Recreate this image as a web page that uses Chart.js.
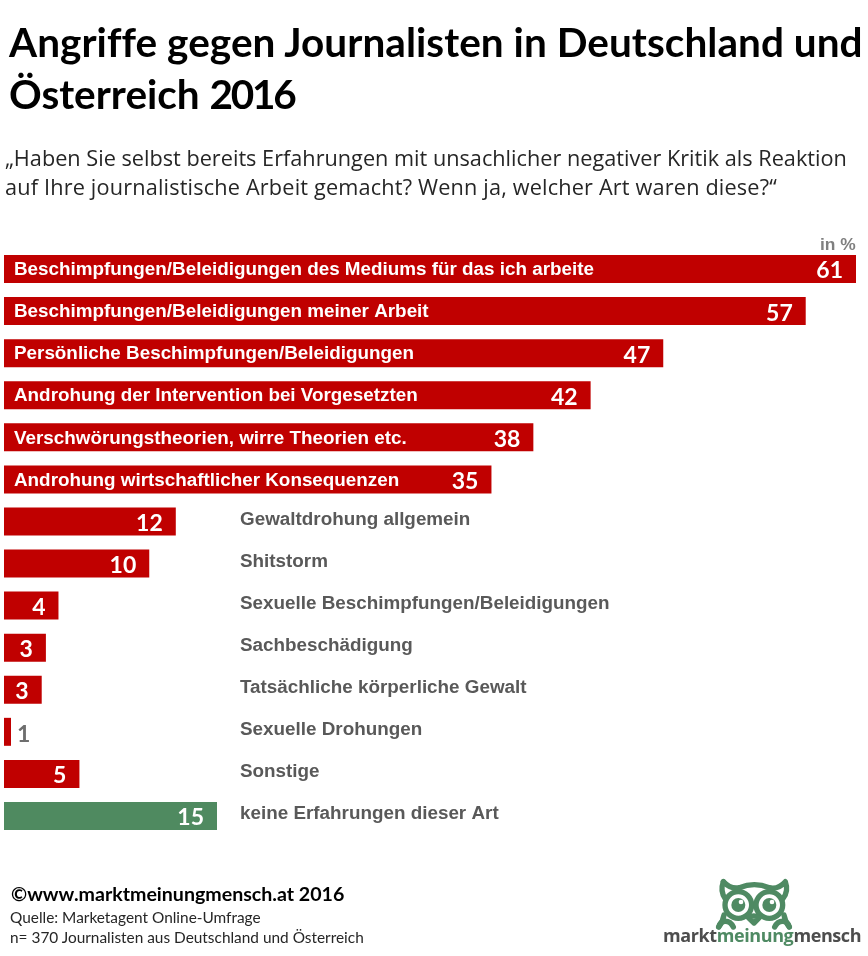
<!DOCTYPE html>
<html lang="de">
<head>
<meta charset="utf-8">
<title>Angriffe gegen Journalisten</title>
<script src="https://cdn.jsdelivr.net/npm/chart.js@4/dist/chart.umd.min.js"></script>
<style>
    html, body { margin: 0; padding: 0; background: #fff; }
    #page { position: relative; width: 868px; height: 956px; overflow: hidden; }
    #page canvas { position: absolute; left: 0; top: 0; }
    .txt { position: absolute; white-space: nowrap; }
    #title { left: 9px; top: 16px; font: bold 40.5px/52px Lato, sans-serif; color: #000; }
    #title .wide { letter-spacing: 0.05px; }
    #title .year { letter-spacing: -2.2px; }
    #subtitle { left: 5px; top: 144px; font: 21.7px/28.5px "Open Sans", sans-serif; color: #262626; }
    #subtitle .wide { letter-spacing: 0.17px; }
    #unit { left: 820px; top: 235px; font: bold 17.4px/18px "Liberation Sans", sans-serif; color: #7f7f7f; }
    #copy { left: 11px; top: 883px; font: bold 19.6px/22px Lato, sans-serif; color: #000; }
    #source { left: 10px; top: 907px; font: 15.4px/20px Lato, sans-serif; color: #262626; }
    #brand { left: 663px; top: 923px; font: bold 18px/24px "Open Sans", sans-serif; color: #4d4d4d; letter-spacing: -0.4px; }
    #brand span { color: #4f8a63; }
    #owl { position: absolute; left: 710px; top: 875px; }
</style>
</head>
<body>
<div id="page">
    <canvas id="chart-attacks" width="868" height="956"></canvas>
    <div class="txt" id="title"><span class="wide">Angriffe gegen Journalisten in Deutschland und</span><br>Österreich <span class="year">2016</span></div>
    <div class="txt" id="subtitle">„Haben Sie selbst bereits Erfahrungen mit unsachlicher negativer Kritik als Reaktion<br><span class="wide">auf Ihre journalistische Arbeit gemacht? Wenn ja, welcher Art waren diese?“</span></div>
    <div class="txt" id="unit">in %</div>
    <div class="txt" id="copy">©www.marktmeinungmensch.at 2016</div>
    <div class="txt" id="source">Quelle: Marketagent Online-Umfrage<br>n= 370 Journalisten aus Deutschland und Österreich</div>
    <svg id="owl" width="90" height="70" viewBox="0 0 270 210">
        <g fill="none" stroke="#4f8a63" stroke-width="16" stroke-linejoin="round" stroke-linecap="round">
            <path d="M40 20 C55 36 70 42 88 38 C118 26 148 26 178 38 C196 42 212 36 226 20 C234 42 230 58 218 72"/>
            <path d="M40 20 C32 42 36 58 46 72"/>
            <path d="M42 120 C40 132 34 146 26 156"/>
            <path d="M222 120 C224 132 230 146 238 156"/>
            <path d="M26 156 C32 134 58 132 70 156"/>
            <path d="M194 156 C206 132 232 134 238 156"/>
            <circle cx="85" cy="90" r="40"/>
            <circle cx="178" cy="90" r="40"/>
            <path d="M115 128 C125 122 138 122 148 128 L132 144 Z"/>
        </g>
        <circle cx="85" cy="90" r="21" fill="#4f8a63"/>
        <circle cx="178" cy="90" r="21" fill="#4f8a63"/>
        <circle cx="93" cy="81" r="7" fill="#fff"/>
        <circle cx="186" cy="81" r="7" fill="#fff"/>
    </svg>
    <div class="txt" id="brand">markt<span>meinung</span>mensch</div>
</div>
<script>
//*** DATA ***//
const categories = [
    'Beschimpfungen/Beleidigungen des Mediums für das ich arbeite',
    'Beschimpfungen/Beleidigungen meiner Arbeit',
    'Persönliche Beschimpfungen/Beleidigungen',
    'Androhung der Intervention bei Vorgesetzten',
    'Verschwörungstheorien, wirre Theorien etc.',
    'Androhung wirtschaftlicher Konsequenzen',
    'Gewaltdrohung allgemein',
    'Shitstorm',
    'Sexuelle Beschimpfungen/Beleidigungen',
    'Sachbeschädigung',
    'Tatsächliche körperliche Gewalt',
    'Sexuelle Drohungen',
    'Sonstige',
    'keine Erfahrungen dieser Art'
];
// bar lengths as measured, the printed labels are rounded
const barValues = [61, 57.4, 47.2, 42, 37.9, 34.9, 12.3, 10.4, 3.9, 3, 2.7, 0.5, 5.4, 15.25];
const valueLabels = ['61', '57', '47', '42', '38', '35', '12', '10', '4', '3', '3', '1', '5', '15'];
const barColors = ['#c00000', '#c00000', '#c00000', '#c00000', '#c00000', '#c00000', '#c00000',
    '#c00000', '#c00000', '#c00000', '#c00000', '#c00000', '#c00000', '#4f8a60'];
const insideCount = 6;

//*** FUNCTIONS ***//
// draws the category text and the number on every bar
const barText = {
    id: 'barText',
    afterDatasetsDraw(chart) {
        const ctx = chart.ctx;
        ctx.save();
        ctx.textBaseline = 'middle';
        chart.getDatasetMeta(0).data.forEach((bar, i) => {
            ctx.textAlign = 'left';
            ctx.font = 'bold 18.85px "Liberation Sans", sans-serif';
            ctx.fillStyle = i < insideCount ? '#fff' : '#595959';
            ctx.fillText(categories[i], i < insideCount ? 14 : 240, bar.y + (i < insideCount ? 1 : -2));

            ctx.font = 'bold 23px Lato, sans-serif';
            if (bar.x - chart.chartArea.left < 20) {
                ctx.fillStyle = '#6e6e6e';
                ctx.fillText(valueLabels[i], bar.x + 6, bar.y + 3);
            } else {
                ctx.textAlign = 'right';
                ctx.fillStyle = '#fff';
                ctx.fillText(valueLabels[i], bar.x - 13, bar.y + 2);
            }
        });
        ctx.restore();
    }
};

new Chart(document.getElementById('chart-attacks'), {
    type: 'bar',
    data: {
        labels: categories,
        datasets: [{
            data: barValues,
            backgroundColor: barColors,
            barPercentage: 0.665,
            categoryPercentage: 1
        }]
    },
    options: {
        indexAxis: 'y',
        responsive: false,
        animation: false,
        layout: { padding: { left: 4, right: 12, top: 248, bottom: 119 } },
        plugins: { legend: { display: false }, tooltip: { enabled: false } },
        scales: {
            x: { display: false, min: 0, max: 61 },
            y: { display: false }
        }
    },
    plugins: [barText]
});
</script>
</body>
</html>
